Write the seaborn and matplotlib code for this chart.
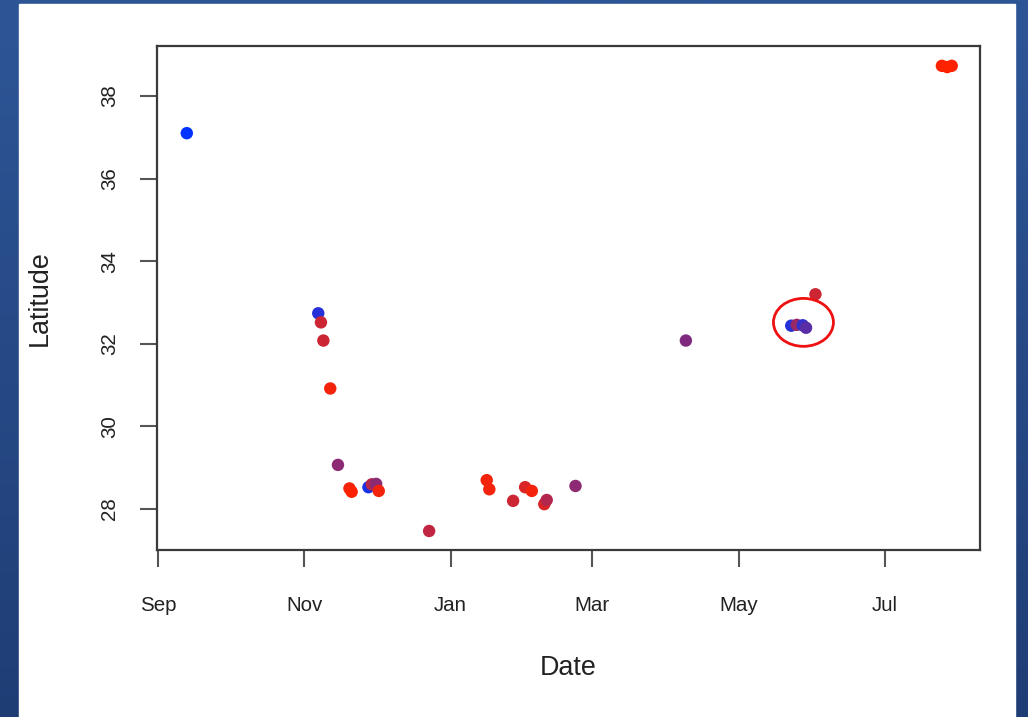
import numpy as np
import pandas as pd
import matplotlib
matplotlib.use("Agg")
import matplotlib.pyplot as plt
import matplotlib.dates as mdates
from matplotlib.colors import LinearSegmentedColormap
from matplotlib.patches import Rectangle, Ellipse
import seaborn as sns

dates = [
    "2012-09-13 00:00", "2012-11-06 19:00", "2012-11-07 22:00", "2012-11-08 22:00",
    "2012-11-11 19:00", "2012-11-15 00:00", "2012-11-19 19:00", "2012-11-20 17:00",
    "2012-11-27 17:00", "2012-11-29 02:00", "2012-11-30 22:00", "2012-12-02 00:00",
    "2012-12-23 00:00", "2013-01-16 00:00", "2013-01-17 02:00", "2013-01-27 00:00",
    "2013-02-01 00:00", "2013-02-03 19:00", "2013-02-09 00:00", "2013-02-10 00:00",
    "2013-02-22 00:00", "2013-04-09 00:00", "2013-05-22 22:00", "2013-05-25 05:00",
    "2013-05-27 17:00", "2013-05-29 02:00", "2013-06-02 00:00", "2013-07-24 17:00",
    "2013-07-26 22:00", "2013-07-28 19:00",
]
latitude = [
    37.10, 32.74, 32.52, 32.08, 30.92, 29.07, 28.50, 28.42, 28.53, 28.60,
    28.61, 28.44, 27.47, 28.70, 28.48, 28.20, 28.53, 28.44, 28.12, 28.22,
    28.56, 32.08, 32.44, 32.46, 32.45, 32.39, 33.20, 38.73, 38.70, 38.73,
]
# blue (0) -> red (1) colour value of each point
mix = [
    0.0, 0.15, 0.8, 0.8, 0.95, 0.55, 0.95, 1.0, 0.1, 0.7,
    0.55, 0.95, 0.75, 0.95, 0.95, 0.8, 0.85, 0.95, 0.85, 0.7,
    0.55, 0.5, 0.15, 0.6, 0.2, 0.35, 0.8, 1.0, 1.0, 1.0,
]

month_ticks = ["2012-09-01", "2012-11-01", "2013-01-01", "2013-03-01", "2013-05-01", "2013-07-01"]
month_labels = ["Sep", "Nov", "Jan", "Mar", "May", "Jul"]
lat_ticks = [28, 30, 32, 34, 36, 38]

# highlighted cluster
circle_center = ("2013-05-28 00:00", 32.52)

df = pd.DataFrame({"date": pd.to_datetime(dates), "lat": latitude, "mix": mix})

plt.rcParams["font.family"] = ["Liberation Sans", "DejaVu Sans"]

fig = plt.figure(figsize=(10.28, 7.17), dpi=100)

# blue slide background with white panel
bg = fig.add_axes([0, 0, 1, 1])
grad = np.linspace(0, 1, 256).reshape(-1, 1)
bg.imshow(grad, aspect="auto", extent=[0, 1, 0, 1], origin="upper",
          cmap=LinearSegmentedColormap.from_list("bg", ["#2e5697", "#1f3d75"]))
bg.add_patch(Rectangle((19 / 1028, 0), 996 / 1028, 713 / 717, color="white"))
bg.set_xlim(0, 1)
bg.set_ylim(0, 1)
bg.axis("off")

ax = fig.add_axes([157 / 1028, 1 - 550 / 717, 823 / 1028, 504 / 717])
cmap = LinearSegmentedColormap.from_list("br", ["#0033ff", "#ff2200"])
sns.scatterplot(data=df, x="date", y="lat", hue="mix", palette=cmap, hue_norm=(0, 1),
                s=80, linewidth=0, legend=False, ax=ax, zorder=3)

ax.add_patch(Ellipse((mdates.date2num(pd.Timestamp(circle_center[0])), circle_center[1]),
                     25, 1.16, fill=False, edgecolor="#ee1111", lw=2, zorder=4))

ax.set_xlim(pd.Timestamp("2012-08-31 14:00"), pd.Timestamp("2013-08-09 14:00"))
ax.set_ylim(27.01, 39.21)
ax.set_xticks(pd.to_datetime(month_ticks))
ax.set_xticklabels(month_labels)
ax.set_yticks(lat_ticks)
ax.set_yticklabels([str(v) for v in lat_ticks], rotation=90, va="center")

for sp in ax.spines.values():
    sp.set_color("#3a3a3a")
    sp.set_linewidth(1.6)
ax.tick_params(axis="both", length=12, width=1.5, color="#555555",
               labelsize=14.8, labelcolor="#222222")
ax.tick_params(axis="x", pad=21)
ax.tick_params(axis="y", pad=15)

ax.set_xlabel("Date", fontsize=19.4, color="#222222")
ax.set_ylabel("Latitude", fontsize=19.4, color="#222222")
ax.xaxis.label.set_verticalalignment("center")
ax.yaxis.label.set_verticalalignment("center")
ax.xaxis.set_label_coords(0.5, -(668 - 550) / 504)
ax.yaxis.set_label_coords((40 - 157) / 823, 0.5)

fig.savefig("out.png", dpi=100)
